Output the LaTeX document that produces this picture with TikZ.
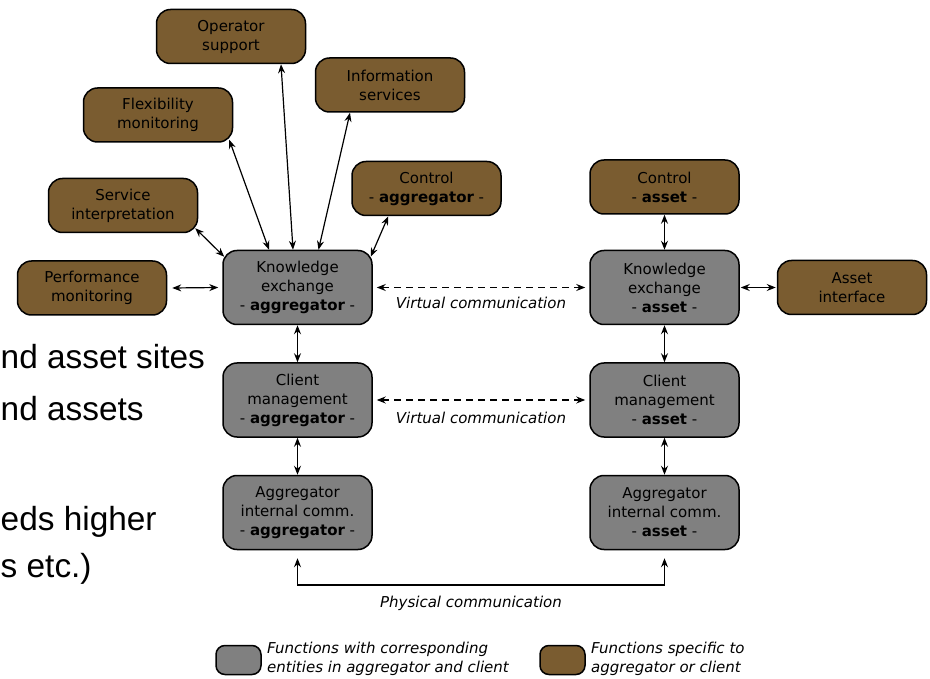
\documentclass[tikz,border=0pt]{standalone}
\usepackage{fontspec}
\setmainfont{DejaVu Sans}
\newfontfamily\slidefont{Liberation Sans}
\usetikzlibrary{arrows.meta,calc}
\definecolor{boxgray}{RGB}{128,128,128}
\definecolor{boxbrown}{RGB}{122,92,48}
\begin{document}
\begin{tikzpicture}[x=1pt,y=-1pt,
  fnbox/.style={draw=black, line width=1.5pt, rounded corners=14pt, minimum width=149pt,
    align=center, inner sep=0pt, text=black, font=\fontsize{15}{19}\selectfont},
  shared/.style={fnbox, fill=boxgray, minimum height=74pt},
  specific/.style={fnbox, fill=boxbrown, minimum height=54pt},
  swatch/.style={draw=black, line width=1.5pt, rounded corners=9pt, minimum width=45pt, minimum height=29pt, inner sep=0pt},
  tip/.tip={Stealth[length=9pt,width=7pt,inset=3pt]},
  link/.style={tip-tip, line width=1.2pt},
  virtual/.style={link, dash pattern=on 7pt off 5pt, shorten <=4pt, shorten >=4pt},
  caption/.style={font=\fontsize{15}{19}\selectfont\itshape, inner sep=0pt, align=left},
  slidetext/.style={font=\slidefont\fontsize{33.4}{40}\selectfont, anchor=base west, inner sep=0pt},
]
\path[use as bounding box] (0,0) rectangle (930,679);
\clip (0,0) rectangle (930,679);

% slide text running behind the figure
\node[slidetext] (s1) at (0.5,369) {nd asset sites};
\node[slidetext] (s2) at (0.5,420) {nd assets};
\node[slidetext] (s3) at (0.5,530) {eds higher};
\node[slidetext] (s4) at (0.5,577) {s etc.)};

% functions present on both sides
\node[shared] (keagg) at (297.5,287.5) {Knowledge\\exchange\\- \textbf{aggregator} -};
\node[shared] (keast) at (664.5,287.5) {Knowledge\\exchange\\- \textbf{asset} -};
\node[shared] (cmagg) at (297.5,400) {Client\\management\\- \textbf{aggregator} -};
\node[shared] (cmast) at (664.5,400) {Client\\management\\- \textbf{asset} -};
\node[shared] (aiagg) at (297.5,512.5) {Aggregator\\internal comm.\\- \textbf{aggregator} -};
\node[shared] (aiast) at (664.5,512.5) {Aggregator\\internal comm.\\- \textbf{asset} -};

% functions specific to one side
\node[specific] (op) at (231,36.5) {Operator\\support};
\node[specific] (flex) at (158,115) {Flexibility\\monitoring};
\node[specific] (serv) at (123,205.5) {Service\\interpretation};
\node[specific] (perf) at (92,288) {Performance\\monitoring};
\node[specific] (info) at (390,85) {Information\\services};
\node[specific] (ctlagg) at (426.5,188.5) {Control\\- \textbf{aggregator} -};
\node[specific] (ctlast) at (664.5,187) {Control\\- \textbf{asset} -};
\node[specific] (aif) at (852,287.5) {Asset\\interface};

% links around the aggregator knowledge exchange
\draw[link] ($(keagg.north)+(-4.5,0)$) -- ($(op.south)+(50,0)$);
\draw[link] ($(keagg.north)+(-28.5,0)$) -- ($(flex.south east)+(-4,-3)$);
\draw[link] ($(keagg.north west)+(2,7)$) -- ($(serv.south east)+(-3,-5)$);
\draw[link] ($(perf.east)+(5,0)$) -- ($(keagg.west)+(-4,0)$);
\draw[link] ($(keagg.north)+(21,0)$) -- ($(info.south)+(-40,0)$);
\draw[link] ($(keagg.north east)+(-2,7)$) -- ($(ctlagg.south west)+(37,0)$);

% links around the asset knowledge exchange
\draw[link] (ctlast.south) -- (keast.north);
\draw[link] ($(keast.east)+(1,0)$) -- ($(aif.west)+(-1,0)$);

% vertical stacks
\draw[link] (keagg.south) -- (cmagg.north);
\draw[link] (cmagg.south) -- (aiagg.north);
\draw[link] (keast.south) -- (cmast.north);
\draw[link] (cmast.south) -- (aiast.north);

% virtual communication
\draw[virtual] (keagg.east) -- (keast.west);
\node[caption] (v1) at (481,303) {Virtual communication};
\draw[virtual] (cmagg.east) -- (cmast.west);
\node[caption] (v2) at (481,418) {Virtual communication};

% physical communication
\coordinate (pl) at (297.5,585);
\draw[link, shorten <=8pt, shorten >=8pt] (aiagg.south) -- (pl) -| (aiast.south);
\node[caption] (phys) at (471,603) {Physical communication};

% legend
\node[swatch, fill=boxgray] (lg1) at (238.5,660) {};
\node[caption, anchor=west] (lt1) at (267,659) {Functions with corresponding\\entities in aggregator and client};
\node[swatch, fill=boxbrown] (lg2) at (562.5,660) {};
\node[caption, anchor=west] (lt2) at (591,659) {Functions specific to\\aggregator or client};
\end{tikzpicture}
\end{document}
